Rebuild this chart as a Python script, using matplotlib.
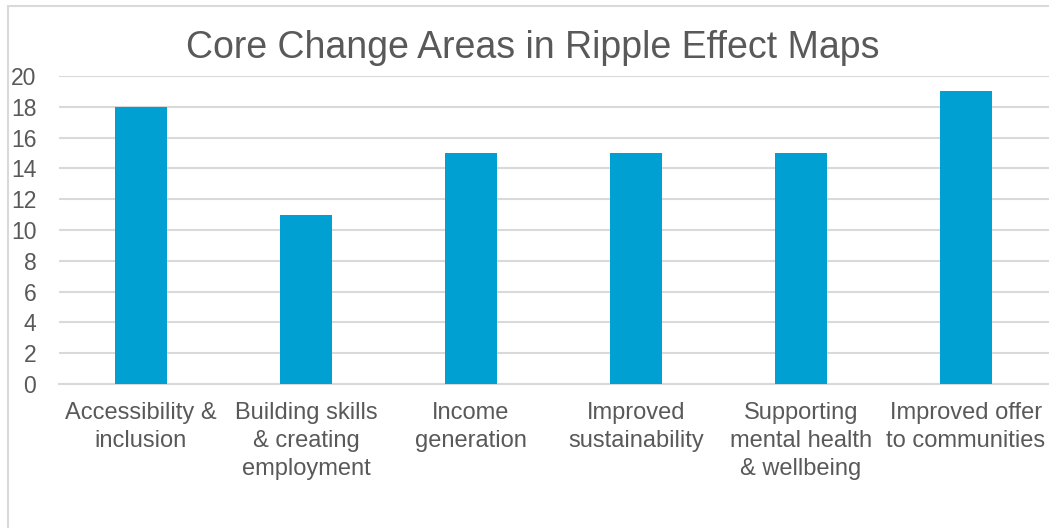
import matplotlib
matplotlib.use("Agg")
import matplotlib.pyplot as plt
from matplotlib.patches import Rectangle

categories = ["Accessibility &\ninclusion", "Building skills\n& creating\nemployment",
              "Income\ngeneration", "Improved\nsustainability",
              "Supporting\nmental health\n& wellbeing", "Improved offer\nto communities"]
values = [18, 11, 15, 15, 15, 19]
yticks = list(range(0, 21, 2))
title = "Core Change Areas in Ripple Effect Maps"

plt.rcParams['font.family'] = ['Liberation Sans', 'DejaVu Sans']
W, H = 1049, 528
fig = plt.figure(figsize=(W/100, H/100), dpi=100)
ax = fig.add_axes([58.5/W, 1-384/H, (1048.5-58.5)/W, (384-76)/H])

x = range(len(values))
ax.bar(x, values, width=0.31, color="#00A0D2", zorder=3)
ax.set_xlim(-0.5, len(values)-0.5)
ax.set_ylim(0, 20)
ax.set_yticks(yticks)
ax.set_xticks(list(x))
ax.set_xticklabels(categories, fontsize=17, color="#595959", linespacing=1.35, va="top")
ax.tick_params(axis='y', labelsize=16.5, labelcolor="#595959", length=0, pad=16)
ax.tick_params(axis='x', length=0, pad=13)
ax.grid(axis='y', color="#D9D9D9", linewidth=1.5, zorder=0)
for s in ["top", "right", "left"]:
    ax.spines[s].set_visible(False)
ax.spines["bottom"].set_color("#D9D9D9")
ax.spines["bottom"].set_linewidth(1.5)

fig.text(533/W, 1-48/H, title, fontsize=27, color="#595959", ha="center", va="center")
fig.patches.append(Rectangle((7.5/W, -0.1), 1.2, 1-5.5/H+0.1, transform=fig.transFigure,
                             fill=False, edgecolor="#D9D9D9", linewidth=1.5))
fig.savefig("out.png", dpi=100)
